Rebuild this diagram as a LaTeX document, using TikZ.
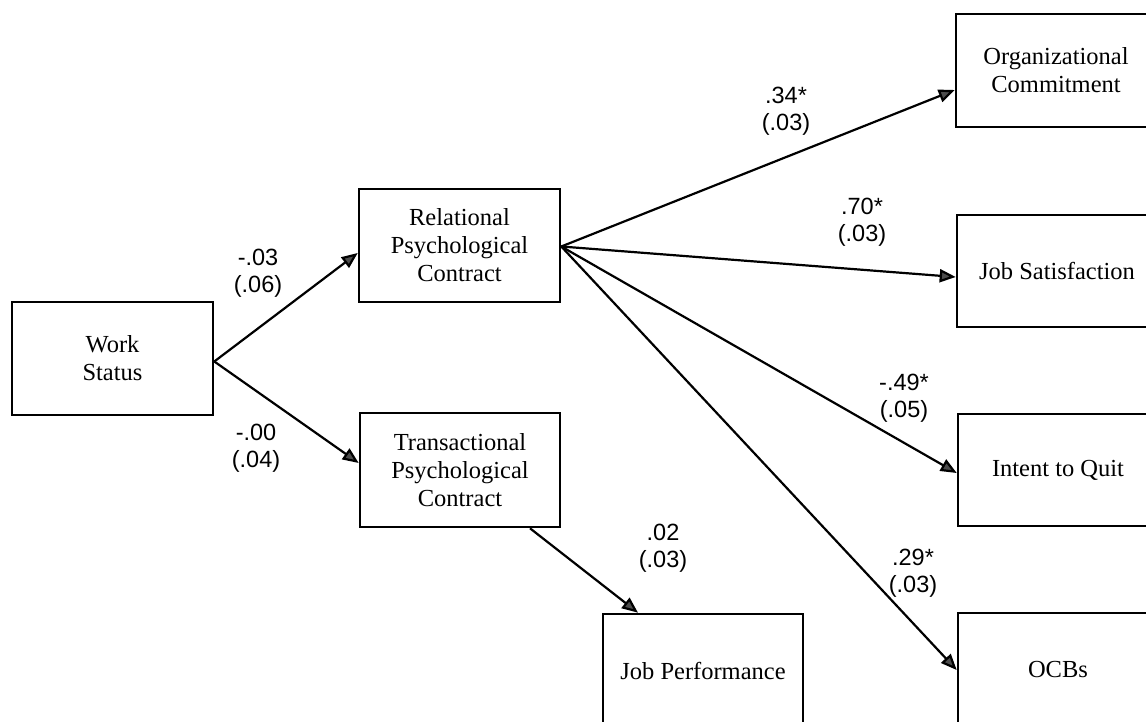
\documentclass[tikz,border=0pt]{standalone}
\usepackage{fontspec}
\setmainfont{Liberation Serif}
\newfontfamily\labelfont{Liberation Sans}
\usetikzlibrary{arrows.meta}

\tikzset{
  varbox/.style={draw=black, line width=2.6pt, fill=white, align=center,
    minimum width=200pt, minimum height=113pt, inner sep=0pt,
    font=\fontsize{24.5}{28}\selectfont},
  path/.style={draw=black, line width=2.2pt,
    -{Triangle[length=16pt,width=13pt,fill=black!70]}},
  coef/.style={align=center, inner sep=0pt,
    font=\labelfont\fontsize{23.5}{26.5}\selectfont}
}

\begin{document}
\begin{tikzpicture}[x=1pt,y=-1pt]
\useasboundingbox (0,0) rectangle (1146,722);

% variables
\node[varbox, minimum width=201pt] (ws)  at (112.5,358.5) {Work\\Status};
\node[varbox, minimum width=201pt] (rel) at (459.5,245.5) {Relational\\Psychological\\Contract};
\node[varbox, minimum height=114pt] (tra) at (460,470) {Transactional\\Psychological\\Contract};
\node[varbox] (org) at (1056,70.5) {Organizational\\Commitment};
\node[varbox, minimum height=112pt] (js) at (1057,271) {Job Satisfaction};
\node[varbox, minimum height=112pt] (iq) at (1058,470) {Intent to Quit};
\node[varbox, minimum height=114pt] (jp) at (703,671) {Job Performance};
\node[varbox, minimum height=114pt] (ocb) at (1058,670) {OCBs};

% structural paths
\draw[path] ([yshift=-3pt]ws.east) -- ([yshift=-7.5pt]rel.west);
\draw[path] ([yshift=-3pt]ws.east) -- ([yshift=7pt]tra.west);
\draw[path] ([yshift=-1pt]rel.east) -- ([yshift=-19.5pt]org.west);
\draw[path] ([yshift=-1pt]rel.east) -- ([yshift=-6pt]js.west);
\draw[path] ([yshift=-1pt]rel.east) -- ([yshift=-3pt]iq.west);
\draw[path] ([yshift=-1pt]rel.east) -- (ocb.west);
\draw[path] ([xshift=70pt]tra.south) -- ([xshift=-65pt]jp.north);

% path coefficients (standard errors)
\node[coef] (c1) at (258,273) {-.03\\(.06)};
\node[coef] (c2) at (256,448) {-.00\\(.04)};
\node[coef] (c3) at (786,111) {.34*\\(.03)};
\node[coef] (c4) at (862,222) {.70*\\(.03)};
\node[coef] (c5) at (904,398) {-.49*\\(.05)};
\node[coef] (c6) at (663,548) {.02\\(.03)};
\node[coef] (c7) at (913,573) {.29*\\(.03)};
\end{tikzpicture}
\end{document}
